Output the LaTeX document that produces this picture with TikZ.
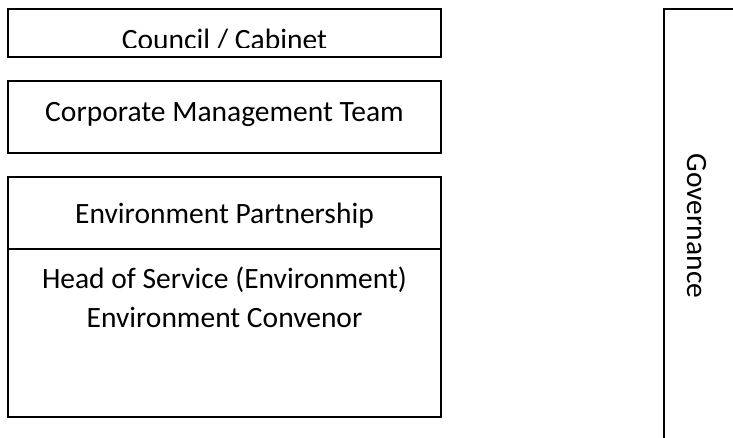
\documentclass[tikz,border=0pt]{standalone}
\usepackage{fontspec}
\setmainfont{Carlito}
\tikzset{
  orgbox/.style={draw,line width=1.3pt,inner sep=0pt,minimum width=433},
  lbl/.style={anchor=base,inner sep=0pt,font=\fontsize{29.5}{35}\selectfont}
}
\begin{document}
\begin{tikzpicture}[x=1pt,y=-1pt]
  \clip (0,0) rectangle (733,437);

  % the three boxes on the left
  \node[orgbox,minimum height=48] (cabinet) at (224.5,33) {};
  \node[orgbox,minimum height=72] (cmt) at (224.5,117) {};
  \node[orgbox,minimum height=240] (env) at (224.5,297) {};
  \coordinate (split) at (8,249);
  \draw[line width=1.3pt] (split) -- (split -| env.east);

  % labels
  \begin{scope}
    \clip (8,9) rectangle (441,47.9);
    \node[lbl] (cabinettxt) at (224.5,49) {Council / Cabinet};
  \end{scope}
  \node[lbl] (cmttxt) at (224.5,121) {Corporate Management Team};
  \node[lbl] (partner) at (224.5,223) {Environment Partnership};
  \node[lbl] (head) at (224.5,288) {Head of Service (Environment)};
  \node[lbl] (convenor) at (224.5,327) {Environment Convenor};

  % governance box, runs off the page
  \coordinate (govtop) at (664,9);
  \coordinate (govright) at (745,9);
  \coordinate (govbottom) at (664,450);
  \draw[line width=1.3pt] (govright) -- (govtop) -- (govbottom);
  \node[lbl,rotate=-90] (gov) at (687,226) {Governance};
\end{tikzpicture}
\end{document}
